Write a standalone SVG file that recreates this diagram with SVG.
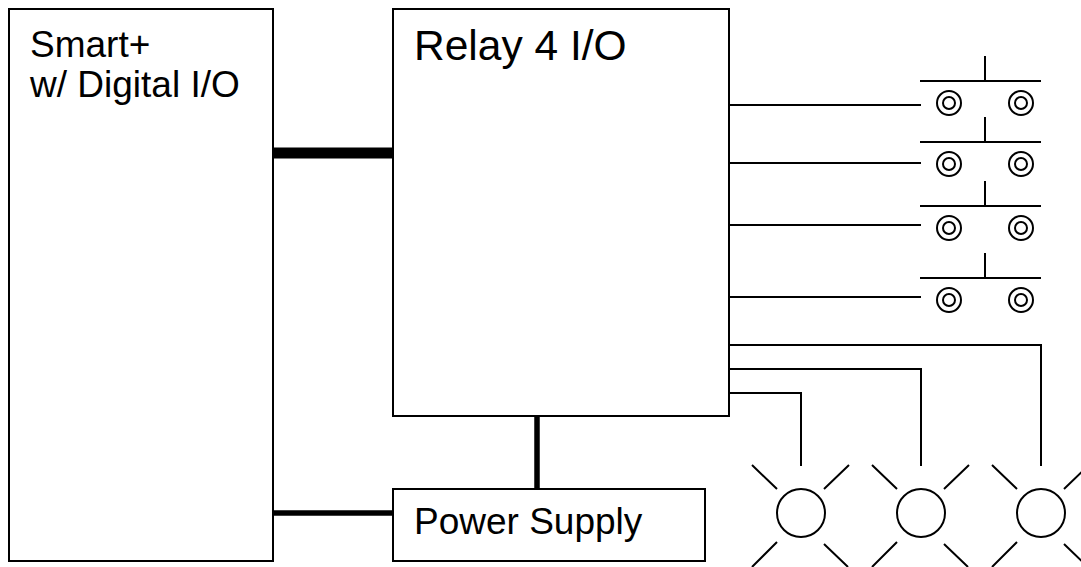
<svg xmlns="http://www.w3.org/2000/svg" width="1081" height="567" viewBox="0 0 1081 567">
<defs>
<style>
.box{fill:#fff;stroke:#000;stroke-width:2}
.w{fill:none;stroke:#000;stroke-width:2}
.t{font-family:"Liberation Sans",Arial,sans-serif;font-size:37px;fill:#000}
</style>
<g id="term"><circle r="12" class="w"/><circle r="6" class="w"/></g>
<g id="sw"><path class="w" d="M920 0H1041M985 0V-25"/><use href="#term" x="949" y="22"/><use href="#term" x="1021" y="22"/></g>
<g id="led"><circle r="24" class="w"/><path class="w" d="M-24-24L-49-48M23-24L48-48M-24 29L-49 54M23 31L47 54"/></g>
</defs>
<rect width="1081" height="567" fill="#fff"/>
<g id="connectors">
<path d="M273 153H393" stroke="#000" stroke-width="11" fill="none"/>
<path d="M537 416V489" stroke="#000" stroke-width="5.5" fill="none"/>
<path d="M273 513H393" stroke="#000" stroke-width="5.5" fill="none"/>
<path class="w" d="M729 105H921M729 163H921M729 225H921M729 297H921M729 345H1041V466M729 369H921V466M729 393H801V466"/>
</g>
<g id="smart"><rect class="box" x="9" y="9" width="264" height="552"/><text class="t" x="30" y="57">Smart+</text><text class="t" x="30" y="97">w/ Digital I/O</text></g>
<g id="relay"><rect class="box" x="393" y="9" width="336" height="407"/><text class="t" style="font-size:42.5px" x="414" y="60">Relay 4 I/O</text></g>
<g id="power"><rect class="box" x="393" y="489" width="312" height="72"/><text class="t" x="414" y="534">Power Supply</text></g>
<g id="switch1"><use href="#sw" y="81"/></g>
<g id="switch2"><use href="#sw" y="142"/></g>
<g id="switch3"><use href="#sw" y="206"/></g>
<g id="switch4"><use href="#sw" y="278"/></g>
<g id="led1"><use href="#led" x="801" y="513"/></g>
<g id="led2"><use href="#led" x="921" y="513"/></g>
<g id="led3"><use href="#led" x="1041" y="513"/></g>
</svg>
